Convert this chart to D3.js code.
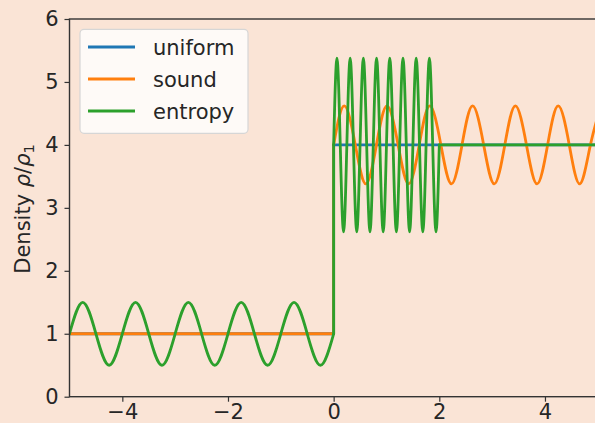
<!DOCTYPE html>
<html>
<head>
<meta charset="utf-8">
<script src="https://cdn.jsdelivr.net/npm/d3@7"></script>
<style>
  body { margin: 0; background: #fae4d6; }
  svg { display: block; font-family: "DejaVu Sans", sans-serif; }
</style>
</head>
<body>
<div id="chart"></div>
<script>
/* Data */
const SERIES_NAMES = ["uniform", "sound", "entropy"]
const X_TICKS = [-4, -2, 0, 2, 4]
const Y_TICKS = [0, 1, 2, 3, 4, 5, 6]

// uniform: step from 1 to 4 at x = 0
const uniformX = [-5, 0, 0, 5]
const uniformY = [1, 1, 4, 4]

// sound: flat at 1, jump, then a wave round 4
const soundFlatX = [-5, 0, 0]
const soundFlatY = [1, 1, 4]
const soundWaveX = [0, 0.2, 0.41, 0.61, 0.81, 1.01, 1.22, 1.42, 1.62, 1.82, 2.03, 2.23, 2.43,
                    2.63, 2.84, 3.04, 3.24, 3.44, 3.65, 3.85, 4.05, 4.25, 4.46, 4.66, 4.86, 5.06]
const soundWaveY = [4, 4.62, 4, 3.38, 4, 4.62, 4, 3.38, 4, 4.62, 4, 3.38, 4,
                    4.62, 4, 3.38, 4, 4.62, 4, 3.38, 4, 4.62, 4, 3.38, 4, 4.62]

// entropy: wave round 1, jump, fast wave round 4, then flat
const entropyLeftX = [-5, -4.75, -4.5, -4.25, -4, -3.75, -3.5, -3.25, -3, -2.75, -2.5,
                      -2.25, -2, -1.75, -1.5, -1.25, -1, -0.75, -0.5, -0.25, 0]
const entropyLeftY = [1, 1.5, 1, 0.5, 1, 1.5, 1, 0.5, 1, 1.5, 1,
                      0.5, 1, 1.5, 1, 0.5, 1, 1.5, 1, 0.5, 1]
const entropyJumpX = [0, 0]
const entropyJumpY = [1, 4]
const entropyFastX = [0, 0.0625, 0.125, 0.1875, 0.25, 0.3125, 0.375, 0.4375, 0.5, 0.5625, 0.625,
                      0.6875, 0.75, 0.8125, 0.875, 0.9375, 1, 1.0625, 1.125, 1.1875, 1.25, 1.3125,
                      1.375, 1.4375, 1.5, 1.5625, 1.625, 1.6875, 1.75, 1.8125, 1.875, 1.9375, 2]
const entropyFastY = [4, 5.38, 4, 2.62, 4, 5.38, 4, 2.62, 4, 5.38, 4,
                      2.62, 4, 5.38, 4, 2.62, 4, 5.38, 4, 2.62, 4, 5.38,
                      4, 2.62, 4, 5.38, 4, 2.62, 4, 5.38, 4, 2.62, 4]
const entropyFlatX = [2, 5]
const entropyFlatY = [4, 4]

/* Layout */
const WIDTH = 595
const HEIGHT = 423
const LEFT = 69.5
const RIGHT = 597.8
const TOP = 19
const BOTTOM = 396.7
const COLORS = {"uniform": "#1f77b4", "sound": "#ff7f0e", "entropy": "#2ca02c"}
const LINE_WIDTH = 2.8
const FONT_SIZE = 21
const INK = "#262626"

const zip = (xs, ys) => xs.map((x, i) => [x, ys[i]])

const svg = d3.select("#chart")
              .append("svg")
              .attr("width", WIDTH)
              .attr("height", HEIGHT);

svg.append("rect")
   .attr("width", WIDTH)
   .attr("height", HEIGHT)
   .attr("fill", "#fae4d6");

const xScale = d3.scaleLinear().domain([-5, 5]).range([LEFT, RIGHT]);
const yScale = d3.scaleLinear().domain([0, 6]).range([BOTTOM, TOP]);

svg.append("clipPath").attr("id", "plot-clip")
   .append("rect")
   .attr("x", LEFT).attr("y", TOP)
   .attr("width", RIGHT - LEFT).attr("height", BOTTOM - TOP);

const straight = d3.line().x(d => xScale(d[0])).y(d => yScale(d[1]));
const smooth = d3.line().x(d => xScale(d[0])).y(d => yScale(d[1])).curve(d3.curveNatural);

/* each series is a list of pieces: straight steps and smooth waves */
const pieces = [
  {name: "uniform", pts: zip(uniformX, uniformY), gen: straight},
  {name: "sound", pts: zip(soundFlatX, soundFlatY), gen: straight},
  {name: "sound", pts: zip(soundWaveX, soundWaveY), gen: smooth},
  {name: "entropy", pts: zip(entropyLeftX, entropyLeftY), gen: smooth},
  {name: "entropy", pts: zip(entropyJumpX, entropyJumpY), gen: straight},
  {name: "entropy", pts: zip(entropyFastX, entropyFastY), gen: smooth},
  {name: "entropy", pts: zip(entropyFlatX, entropyFlatY), gen: straight}
];

svg.append("g")
   .attr("clip-path", "url(#plot-clip)")
   .selectAll("path")
   .data(pieces)
   .enter()
   .append("path")
   .attr("d", d => d.gen(d.pts))
   .attr("fill", "none")
   .attr("stroke", d => COLORS[d.name])
   .attr("stroke-width", LINE_WIDTH)
   .attr("stroke-linejoin", "round")
   .attr("stroke-linecap", "round");

/* Axes */
const xAxis = d3.axisBottom(xScale).tickValues(X_TICKS).tickSize(5).tickPadding(2)
                .tickFormat(d => d < 0 ? "\u2212" + Math.abs(d) : d);
const yAxis = d3.axisLeft(yScale).tickValues(Y_TICKS).tickSize(5).tickPadding(6)
                .tickFormat(d3.format("d"));

svg.append("g")
   .attr("transform", "translate(0, " + BOTTOM + ")")
   .call(xAxis);
svg.append("g")
   .attr("transform", "translate(" + LEFT + ", 0)")
   .call(yAxis);

svg.selectAll(".tick line").attr("stroke", "#333").attr("stroke-width", 1.2);
svg.selectAll(".tick text").attr("fill", INK).style("font-size", FONT_SIZE + "px")
   .style("font-family", "DejaVu Sans");
svg.selectAll(".domain").remove();

// spines
svg.append("rect")
   .attr("x", LEFT).attr("y", TOP)
   .attr("width", RIGHT - LEFT).attr("height", BOTTOM - TOP)
   .attr("fill", "none")
   .attr("stroke", "#333")
   .attr("stroke-width", 1.4);

/* Y label */
const ylabel = svg.append("text")
                  .attr("transform", "translate(30, 209) rotate(-90)")
                  .attr("text-anchor", "middle")
                  .attr("fill", INK)
                  .style("font-size", FONT_SIZE + "px");
ylabel.append("tspan").text("Density ");
ylabel.append("tspan").attr("font-style", "italic").text("\u03c1");
ylabel.append("tspan").text("/");
ylabel.append("tspan").attr("font-style", "italic").text("\u03c1");
ylabel.append("tspan").attr("dy", "0.25em").style("font-size", "14.5px").text("1");

/* Legend */
const legend = svg.append("g");
legend.append("rect")
      .attr("x", 80).attr("y", 29.3)
      .attr("width", 168).attr("height", 104)
      .attr("rx", 4)
      .attr("fill", "#ffffff").attr("fill-opacity", 0.8)
      .attr("stroke", "#d6d6d6").attr("stroke-width", 1.2);
const rows = legend.selectAll("g.row")
                   .data(SERIES_NAMES)
                   .enter()
                   .append("g")
                   .attr("class", "row")
                   .attr("transform", (d, i) => "translate(0, " + (47 + i * 32) + ")");
rows.append("line")
    .attr("x1", 88).attr("x2", 135)
    .attr("stroke", d => COLORS[d])
    .attr("stroke-width", LINE_WIDTH);
rows.append("text")
    .attr("x", 153).attr("y", 8)
    .attr("fill", INK)
    .style("font-size", FONT_SIZE + "px")
    .text(d => d);
</script>
</body>
</html>
